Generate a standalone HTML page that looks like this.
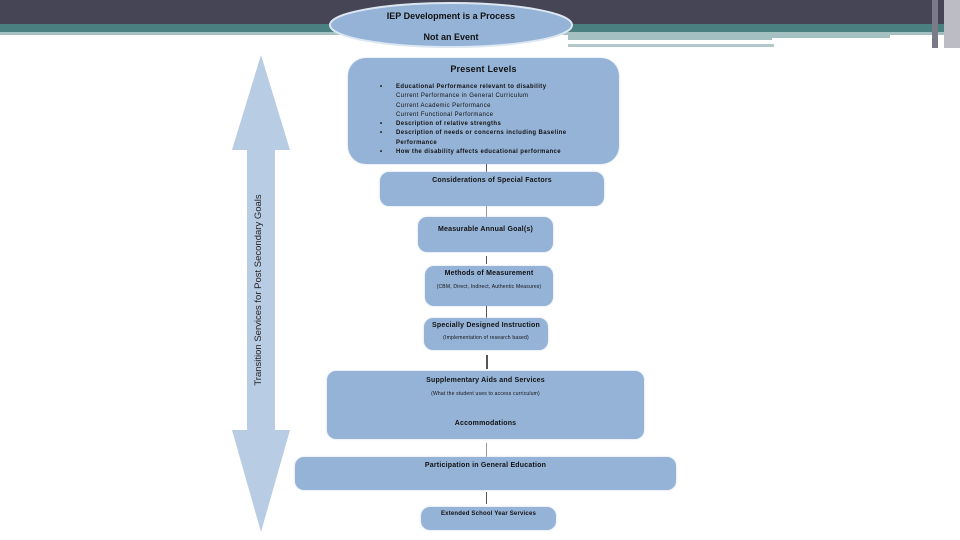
<!DOCTYPE html>
<html><head><style>
body{margin:0;width:960px;height:540px;overflow:hidden;background:#fff;position:relative;font-family:"Liberation Sans",sans-serif;}
.b{position:absolute;background:#95b3d7;border-radius:9px;box-shadow:0 0 2px #c9d8ea;color:#111;font-size:7px;font-weight:bold;text-align:center;letter-spacing:0.2px;}
.l{position:absolute;width:1px;background:#555;left:486px;}
.s{font-weight:normal;font-size:5px;}
</style></head><body>
<div style="position:absolute;left:0;top:0;width:960px;height:24px;background:#454555"></div>
<div style="position:absolute;left:0;top:24px;width:960px;height:8px;background:#4a8080"></div>
<div style="position:absolute;left:0;top:32px;width:960px;height:3px;background:#a5c0c0"></div>
<div style="position:absolute;left:568px;top:35px;width:322px;height:5px;background:#a5c0c0"></div>
<div style="position:absolute;left:772px;top:38px;width:120px;height:3px;background:#fff"></div>
<div style="position:absolute;left:568px;top:44px;width:206px;height:3px;background:#b3c8c8"></div>
<div style="position:absolute;left:932px;top:0;width:6px;height:48px;background:#7a7a88"></div>
<div style="position:absolute;left:944px;top:0;width:16px;height:48px;background:#bcbcc4"></div>
<svg style="position:absolute;left:0;top:0" width="960" height="540">
<polygon points="261,55 290,150 275,150 275,430 290,430 261,532 232,430 247,430 247,150 232,150" fill="#b8cce4"/>
<text transform="translate(261,290) rotate(-90)" text-anchor="middle" font-size="9.5" font-family="Liberation Sans" fill="#222">Transition  Services for Post Secondary Goals</text>
<ellipse cx="451" cy="25" rx="121" ry="22" fill="#95b3d7" stroke="#dde7f2" stroke-width="2"/>
<text x="451" y="19" text-anchor="middle" font-size="9" font-weight="bold" font-family="Liberation Sans" fill="#111">IEP Development is a Process</text>
<text x="451" y="40" text-anchor="middle" font-size="9" font-weight="bold" font-family="Liberation Sans" fill="#111">Not an Event</text>
</svg>
<div class="b" style="left:348px;top:58px;width:271px;height:106px;border-radius:18px;text-align:left;">
<div style="text-align:center;font-size:9px;margin-top:6px">Present Levels</div>
<div style="position:absolute;left:48px;top:25px;font-size:6px;line-height:9.3px;white-space:nowrap;letter-spacing:0.4px">
Educational Performance relevant to disability<br><span class="s" style="font-size:6px">Current Performance in General Curriculum<br>Current Academic Performance<br>Current Functional Performance</span><br>Description of relative strengths<br>Description of needs or concerns including Baseline<br>Performance<br>How the disability affects educational performance</div>
<div style="position:absolute;left:32px;top:25px;font-size:6px;line-height:9.3px">•<br><br><br><br>•<br>•<br><br>•</div>
</div>
<div class="l" style="top:164px;height:8px"></div>
<div class="b" style="left:380px;top:172px;width:224px;height:34px"><div style="margin-top:5px">Considerations of Special Factors</div></div>
<div class="l" style="top:206px;height:11px;background:#999"></div>
<div class="b" style="left:418px;top:217px;width:135px;height:35px"><div style="margin-top:9px">Measurable Annual Goal(s)</div></div>
<div class="l" style="top:256px;height:8px"></div>
<div class="b" style="left:425px;top:266px;width:128px;height:40px"><div style="margin-top:4px">Methods of Measurement</div><div class="s" style="margin-top:7px">(CBM, Direct, Indirect, Authentic Measures)</div></div>
<div class="l" style="top:306px;height:12px"></div>
<div class="b" style="left:424px;top:318px;width:124px;height:32px"><div style="margin-top:4px">Specially Designed Instruction</div><div class="s" style="margin-top:6px">(Implementation of research based)</div></div>
<div class="l" style="top:355px;height:14px;width:2px"></div>
<div class="b" style="left:327px;top:371px;width:317px;height:68px"><div style="margin-top:6px">Supplementary Aids and Services</div><div class="s" style="margin-top:7px">(What the student uses to access curriculum)</div><div style="margin-top:23px">Accommodations</div></div>
<div class="l" style="top:443px;height:14px;background:#999"></div>
<div class="b" style="left:295px;top:457px;width:381px;height:33px"><div style="margin-top:5px">Participation in General Education</div></div>
<div class="l" style="top:492px;height:12px"></div>
<div class="b" style="left:421px;top:507px;width:135px;height:23px;font-size:6px"><div style="margin-top:4px">Extended School Year Services</div></div>
</body></html>
